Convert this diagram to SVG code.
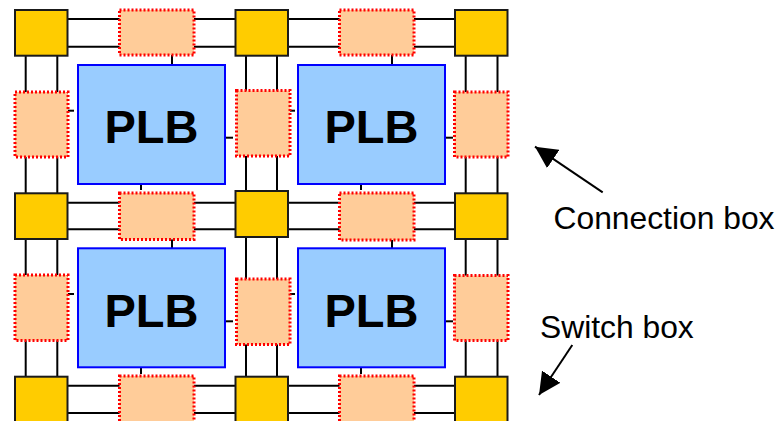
<svg xmlns="http://www.w3.org/2000/svg" width="779" height="421" viewBox="0 0 779 421">
<style>
.sb{fill:#FFCC00;stroke:#1a1a1a;stroke-width:2}
.cb{fill:#FFCC99;stroke:#FF0000;stroke-width:3;stroke-dasharray:2 2}
.plb{fill:#99CCFF;stroke:#0000FF;stroke-width:2}
.w{stroke:#000;stroke-width:2;fill:none}
.pt{font-family:"Liberation Sans",Arial,sans-serif;font-weight:bold;font-size:47px;text-anchor:middle;fill:#000}
.lb{font-family:"Liberation Sans",Arial,sans-serif;font-size:31.8px;fill:#000}
</style>
<defs>
<marker id="ah" markerUnits="userSpaceOnUse" markerWidth="22" markerHeight="22" refX="20" refY="10" orient="auto" viewBox="0 0 20 20">
<path d="M0,0 L20,10 L0,20 z" fill="#000"/>
</marker>
</defs>
<rect width="779" height="421" fill="#fff"/>
<g id="connectors" class="w">
<line x1="15" y1="19" x2="507" y2="19"/>
<line x1="15" y1="46.7" x2="507" y2="46.7"/>
<line x1="15" y1="202.7" x2="507" y2="202.7"/>
<line x1="15" y1="229.3" x2="507" y2="229.3"/>
<line x1="15" y1="385.7" x2="507" y2="385.7"/>
<line x1="15" y1="413" x2="507" y2="413"/>
<line x1="25.7" y1="10" x2="25.7" y2="421"/>
<line x1="57.3" y1="10" x2="57.3" y2="421"/>
<line x1="246" y1="10" x2="246" y2="421"/>
<line x1="277" y1="10" x2="277" y2="421"/>
<line x1="465.7" y1="10" x2="465.7" y2="421"/>
<line x1="497.5" y1="10" x2="497.5" y2="421"/>
<line x1="172" y1="55" x2="172" y2="65"/>
<line x1="141" y1="184" x2="141" y2="190"/>
<line x1="68" y1="110.7" x2="74" y2="110.7"/>
<line x1="225" y1="137.7" x2="233" y2="137.7"/>
<line x1="392" y1="55" x2="392" y2="65"/>
<line x1="361" y1="184" x2="361" y2="190"/>
<line x1="290" y1="110.7" x2="295" y2="110.7"/>
<line x1="445" y1="137.7" x2="453" y2="137.7"/>
<line x1="172" y1="239" x2="172" y2="248.3"/>
<line x1="141" y1="367.3" x2="141" y2="374"/>
<line x1="68" y1="294" x2="74" y2="294"/>
<line x1="225" y1="321.3" x2="233" y2="321.3"/>
<line x1="392" y1="239" x2="392" y2="248.3"/>
<line x1="361" y1="367.3" x2="361" y2="374"/>
<line x1="290" y1="294" x2="295" y2="294"/>
<line x1="445" y1="321.3" x2="453" y2="321.3"/>
<line x1="602.7" y1="192.3" x2="535" y2="146.7" marker-end="url(#ah)"/>
<line x1="572.3" y1="345" x2="539" y2="395" marker-end="url(#ah)"/>
</g>
<g id="sb-r1c1"><rect class="sb" x="15" y="10" width="52.5" height="45.7"/></g>
<g id="sb-r1c2"><rect class="sb" x="235.5" y="10" width="52.5" height="45.7"/></g>
<g id="sb-r1c3"><rect class="sb" x="455" y="10" width="52.5" height="45.7"/></g>
<g id="sb-r2c1"><rect class="sb" x="15" y="193.3" width="52.5" height="45.7"/></g>
<g id="sb-r2c2"><rect class="sb" x="235.5" y="191" width="52.5" height="46"/></g>
<g id="sb-r2c3"><rect class="sb" x="455" y="193.3" width="52.5" height="45.7"/></g>
<g id="sb-r3c1"><rect class="sb" x="15" y="376.7" width="52.5" height="50"/></g>
<g id="sb-r3c2"><rect class="sb" x="235.5" y="376.7" width="52.5" height="50"/></g>
<g id="sb-r3c3"><rect class="sb" x="455" y="376.7" width="52.5" height="50"/></g>
<g id="cbh-r1c1"><rect class="cb" x="119.5" y="10" width="74.5" height="45"/></g>
<g id="cbh-r1c2"><rect class="cb" x="339.5" y="10" width="74.5" height="45"/></g>
<g id="cbh-r2c1"><rect class="cb" x="119.5" y="193" width="74.5" height="46.5"/></g>
<g id="cbh-r2c2"><rect class="cb" x="339.5" y="193" width="74.5" height="47"/></g>
<g id="cbh-r3c1"><rect class="cb" x="119.5" y="376" width="74.5" height="50"/></g>
<g id="cbh-r3c2"><rect class="cb" x="339.5" y="376" width="74.5" height="50"/></g>
<g id="cbv-r1c1"><rect class="cb" x="15" y="92" width="53" height="65"/></g>
<g id="cbv-r1c2"><rect class="cb" x="236.5" y="90.5" width="53.5" height="65.5"/></g>
<g id="cbv-r1c3"><rect class="cb" x="454.5" y="92" width="53.5" height="65"/></g>
<g id="cbv-r2c1"><rect class="cb" x="15" y="275" width="53" height="65.5"/></g>
<g id="cbv-r2c2"><rect class="cb" x="236.5" y="279" width="53.5" height="65.5"/></g>
<g id="cbv-r2c3"><rect class="cb" x="454.5" y="275.5" width="53.5" height="65"/></g>
<g id="plb1"><rect class="plb" x="78" y="65" width="147" height="119"/><text class="pt" x="151.5" y="143">PLB</text></g>
<g id="plb2"><rect class="plb" x="298" y="65" width="147" height="119"/><text class="pt" x="371.5" y="143">PLB</text></g>
<g id="plb3"><rect class="plb" x="78" y="248.3" width="147" height="119"/><text class="pt" x="151.5" y="326.5">PLB</text></g>
<g id="plb4"><rect class="plb" x="298" y="248.3" width="147" height="119"/><text class="pt" x="371.5" y="326.5">PLB</text></g>
<g id="labels">
<text class="lb" x="553.5" y="229.3">Connection box</text>
<text class="lb" x="540" y="338.3">Switch box</text>
</g>
</svg>
